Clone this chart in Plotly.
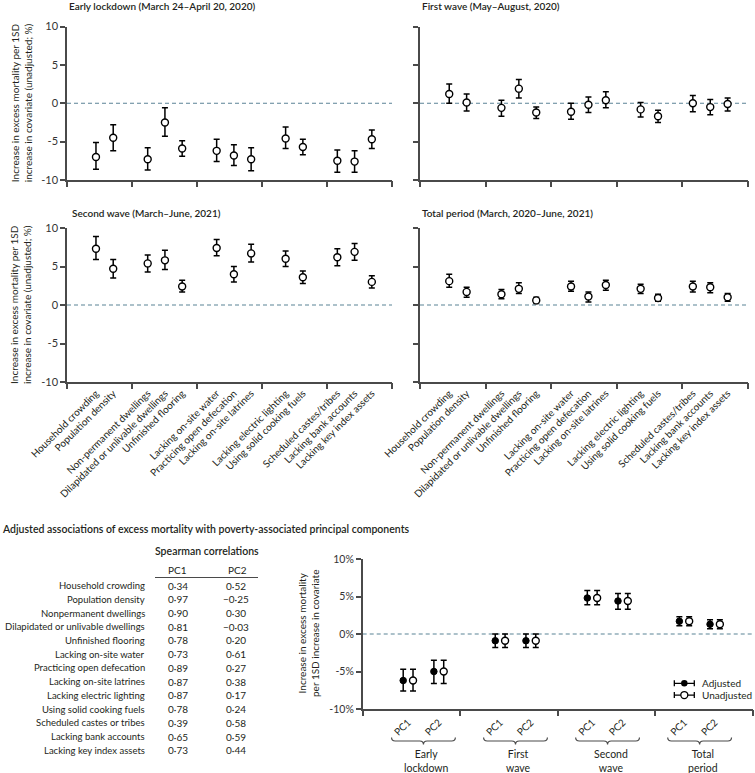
import plotly.graph_objects as go

# ---------------- data ----------------
categories = ["Household crowding", "Population density", "Non-permanent dwellings",
              "Dilapidated or unlivable dwellings", "Unfinished flooring",
              "Lacking on-site water", "Practicing open defecation", "Lacking on-site latrines",
              "Lacking electric lighting", "Using solid cooking fuels",
              "Scheduled castes/tribes", "Lacking bank accounts", "Lacking key index assets"]
group_sizes = [2, 3, 3, 2, 3]

early_est = [-7.0, -4.5, -7.3, -2.5, -5.9, -6.2, -6.8, -7.3, -4.6, -5.7, -7.5, -7.6, -4.7]
early_lo = [-8.6, -6.2, -8.7, -4.3, -6.9, -7.6, -8.1, -8.8, -5.9, -6.7, -9.0, -9.0, -5.9]
early_hi = [-5.1, -2.8, -5.8, -0.6, -4.9, -4.7, -5.4, -5.8, -3.1, -4.7, -6.1, -6.2, -3.5]

first_est = [1.2, 0.1, -0.6, 1.9, -1.2, -1.1, -0.2, 0.4, -0.8, -1.7, 0.0, -0.5, -0.1]
first_lo = [0.0, -1.0, -1.7, 0.7, -2.0, -2.1, -1.2, -0.6, -1.8, -2.5, -1.1, -1.5, -1.0]
first_hi = [2.5, 1.2, 0.4, 3.1, -0.5, 0.0, 0.8, 1.5, 0.1, -0.9, 1.0, 0.5, 0.7]

second_est = [7.3, 4.7, 5.4, 5.8, 2.4, 7.4, 4.0, 6.7, 6.0, 3.6, 6.2, 6.9, 3.0]
second_lo = [5.9, 3.5, 4.3, 4.6, 1.7, 6.4, 3.0, 5.6, 5.0, 2.8, 5.1, 5.8, 2.2]
second_hi = [8.9, 5.9, 6.5, 7.1, 3.2, 8.5, 5.0, 7.9, 7.0, 4.4, 7.3, 8.0, 3.8]

total_est = [3.1, 1.7, 1.4, 2.1, 0.6, 2.4, 1.1, 2.6, 2.1, 0.9, 2.4, 2.3, 1.0]
total_lo = [2.3, 1.0, 0.8, 1.5, 0.2, 1.8, 0.4, 1.9, 1.5, 0.5, 1.7, 1.6, 0.5]
total_hi = [4.0, 2.3, 2.0, 2.9, 1.0, 3.1, 1.7, 3.2, 2.7, 1.4, 3.1, 2.9, 1.5]

panel_titles = ["Early lockdown (March 24\u2013April 20, 2020)", "First wave (May\u2013August, 2020)",
                "Second wave (March\u2013June, 2021)", "Total period (March, 2020\u2013June, 2021)"]
y_ticks = [-10, -5, 0, 5, 10]

periods = ["Early<br>lockdown", "First<br>wave", "Second<br>wave", "Total<br>period"]
components = ["PC1", "PC2"]
adj_est = [-6.2, -5.0, -0.9, -0.9, 4.8, 4.4, 1.7, 1.3]
adj_lo = [-7.6, -6.6, -1.8, -1.8, 3.9, 3.3, 1.1, 0.7]
adj_hi = [-4.7, -3.5, 0.0, 0.0, 5.8, 5.4, 2.3, 1.9]
unadj_est = [-6.2, -5.0, -0.9, -0.9, 4.8, 4.4, 1.7, 1.3]
unadj_lo = [-7.6, -6.6, -1.8, -1.8, 3.9, 3.3, 1.1, 0.7]
unadj_hi = [-4.7, -3.5, 0.0, 0.0, 5.8, 5.4, 2.3, 1.9]
pc_ticks = [-10, -5, 0, 5, 10]

table_rows = ["Household crowding", "Population density", "Nonpermanent dwellings",
              "Dilapidated or unlivable dwellings", "Unfinished flooring", "Lacking on-site water",
              "Practicing open defecation", "Lacking on-site latrines", "Lacking electric lighting",
              "Using solid cooking fuels", "Scheduled castes or tribes", "Lacking bank accounts",
              "Lacking key index assets"]
pc1_corr = [0.34, 0.97, 0.90, 0.81, 0.78, 0.73, 0.89, 0.87, 0.87, 0.78, 0.39, 0.65, 0.73]
pc2_corr = [0.52, -0.25, 0.30, -0.03, 0.20, 0.61, 0.27, 0.38, 0.17, 0.24, 0.58, 0.59, 0.44]

# ---------------- styling ----------------
W, H = 755, 773
FONT = "Lato"
TXT = "#231f20"
AX = "#4a4a4a"
DASH = "#5b8396"
DASHPAT = "4px,3px"


def px(x):
    return x / W


def py(y):
    return 1 - y / H


def slot_positions(sizes):
    pos, s = [], 0
    for n in sizes:
        for _ in range(n):
            pos.append(s)
            s += 1
        s += 1
    return pos


xpos = slot_positions(group_sizes)
pc_pos = slot_positions([len(components)] * len(periods))

fig = go.Figure()
tick_axes = []  # (base x axis name, anchor y, range, n divisions)

panels = [
    (early_est, early_lo, early_hi),
    (first_est, first_lo, first_hi),
    (second_est, second_lo, second_hi),
    (total_est, total_lo, total_hi),
]
xdom = [[px(67), px(392)], [px(420), px(748)]]
ydom = [[py(180), py(26.5)], [py(382), py(228)]]
xr = [-1.68, 17.17]
ndiv = 5

for i, (est, lo, hi) in enumerate(panels):
    k = i + 1
    xa = "x" if k == 1 else f"x{k}"
    ya = "y" if k == 1 else f"y{k}"
    fig.add_trace(go.Scatter(
        x=xpos, y=est, xaxis=xa, yaxis=ya, mode="markers", showlegend=False,
        marker=dict(symbol="circle", size=7, color="white", line=dict(color="black", width=1.4)),
        error_y=dict(type="data", symmetric=False,
                     array=[h - e for h, e in zip(hi, est)],
                     arrayminus=[e - l for e, l in zip(est, lo)],
                     color="black", thickness=1.5, width=3),
        cliponaxis=False,
    ))
    col, row = i % 2, i // 2
    bottom = row == 1
    left = col == 0
    xkey = "xaxis" if k == 1 else f"xaxis{k}"
    ykey = "yaxis" if k == 1 else f"yaxis{k}"
    fig.layout[xkey] = dict(
        domain=xdom[col], anchor=ya, range=xr, showgrid=False, zeroline=False, automargin=False,
        showline=True, linecolor=AX, linewidth=1.5,
        tickmode="array", tickvals=xpos, ticktext=categories, ticks="",
        showticklabels=bottom, tickangle=-45,
        tickfont=dict(family=FONT, size=10, color=TXT),
    )
    fig.layout[ykey] = dict(
        domain=ydom[row], anchor=xa, range=[-10, 10], showgrid=False, zeroline=False, automargin=False,
        showline=True, linecolor=AX, linewidth=1.5,
        tickmode="array", tickvals=y_ticks, ticktext=[str(v) for v in y_ticks],
        ticks="outside", ticklen=5, tickwidth=1.5, tickcolor=AX,
        showticklabels=left, tickfont=dict(family=FONT, size=11, color="#333333"),
    )
    tick_axes.append((xa, ya, xdom[col], xr, ndiv))
    fig.add_shape(type="line", xref=f"{xa} domain", yref=ya, x0=0, x1=1, y0=0, y1=0,
                  line=dict(color=DASH, width=1.2, dash=DASHPAT), layer="below")

# panel titles
title_pos = [(67, 6), (420, 6), (70, 213), (420, 213)]
for t, (x, y) in zip(panel_titles, title_pos):
    fig.add_annotation(text=t, x=px(x), y=py(y), xref="paper", yref="paper",
                       xanchor="left", yanchor="middle", showarrow=False,
                       font=dict(family=FONT, size=10, color=TXT, weight=600))

ytitle = "Increase in excess mortality per 1SD<br>increase in covariate (unadjusted; %)"
for yc in [(26.5 + 180) / 2, (228 + 382) / 2]:
    fig.add_annotation(text=ytitle, x=px(21), y=py(yc), xref="paper", yref="paper",
                       xanchor="center", yanchor="middle", textangle=-90, showarrow=False,
                       font=dict(family=FONT, size=10, color=TXT))

# ---------------- bottom section ----------------
fig.add_annotation(text="Adjusted associations of excess mortality with poverty-associated principal components",
                   x=0, y=py(529), xref="paper", yref="paper", xanchor="left", yanchor="middle",
                   showarrow=False, font=dict(family=FONT, size=10.5, color=TXT, weight=600))

# table
fig.add_annotation(text="Spearman correlations", x=px(207), y=py(551), xref="paper", yref="paper",
                   xanchor="center", yanchor="middle", showarrow=False,
                   font=dict(family=FONT, size=10.5, color=TXT, weight=600))
for hdr, xc in zip(["PC1", "PC2"], [177, 237]):
    fig.add_annotation(text=hdr, x=px(xc), y=py(570), xref="paper", yref="paper",
                       xanchor="center", yanchor="middle", showarrow=False,
                       font=dict(family=FONT, size=10, color=TXT))
fig.add_shape(type="line", xref="paper", yref="paper", x0=px(155), x1=px(258),
              y0=py(577.5), y1=py(577.5), line=dict(color=AX, width=1.2))


def fmt(v):
    s = f"{abs(v):.2f}".replace(".", "\u00b7")
    return ("\u2212" if v < 0 else "") + s


for i, (lab, a, b) in enumerate(zip(table_rows, pc1_corr, pc2_corr)):
    yy = py(585.6 + 13.72 * i)
    fig.add_annotation(text=lab, x=px(147), y=yy, xref="paper", yref="paper", xanchor="right",
                       yanchor="middle", showarrow=False, font=dict(family=FONT, size=9.5, color=TXT))
    fig.add_annotation(text=fmt(a), x=px(178), y=yy, xref="paper", yref="paper", xanchor="center",
                       yanchor="middle", showarrow=False, font=dict(family=FONT, size=10, color=TXT))
    fig.add_annotation(text=fmt(b), x=px(236), y=yy, xref="paper", yref="paper", xanchor="center",
                       yanchor="middle", showarrow=False, font=dict(family=FONT, size=10, color=TXT))

# PC chart
off = 0.16
fig.add_trace(go.Scatter(
    x=[p - off for p in pc_pos], y=adj_est, xaxis="x5", yaxis="y5", mode="markers", showlegend=False,
    marker=dict(symbol="circle", size=6.5, color="black", line=dict(color="black", width=1)),
    error_y=dict(type="data", symmetric=False, array=[h - e for h, e in zip(adj_hi, adj_est)],
                 arrayminus=[e - l for e, l in zip(adj_est, adj_lo)], color="black", thickness=1.5, width=3),
))
fig.add_trace(go.Scatter(
    x=[p + off for p in pc_pos], y=unadj_est, xaxis="x5", yaxis="y5", mode="markers", showlegend=False,
    marker=dict(symbol="circle", size=7, color="white", line=dict(color="black", width=1.4)),
    error_y=dict(type="data", symmetric=False, array=[h - e for h, e in zip(unadj_hi, unadj_est)],
                 arrayminus=[e - l for e, l in zip(unadj_est, unadj_lo)], color="black", thickness=1.5, width=3),
))
xr5 = [-1.48, 11.24]
dom5 = [px(362.7), px(753)]
fig.layout["xaxis5"] = dict(
    domain=dom5, anchor="y5", range=xr5, showgrid=False, zeroline=False, automargin=False,
    showline=True, linecolor=AX, linewidth=1.5,
    tickmode="array", tickvals=pc_pos, ticktext=components * len(periods), ticks="",
    tickangle=-45, tickfont=dict(family=FONT, size=10, color=TXT), ticklabelstandoff=2,
)
fig.layout["yaxis5"] = dict(
    domain=[py(709), py(559)], anchor="x5", range=[-10, 10], showgrid=False, zeroline=False, automargin=False,
    showline=True, linecolor=AX, linewidth=1.5,
    tickmode="array", tickvals=pc_ticks, ticktext=[f"{v}%" for v in pc_ticks],
    ticks="outside", ticklen=5, tickwidth=1.5, tickcolor=AX,
    tickfont=dict(family=FONT, size=10.5, color="#333333"),
)
tick_axes.append(("x5", "y5", dom5, xr5, len(periods)))
fig.add_shape(type="line", xref="x5 domain", yref="y5", x0=0, x1=1, y0=0, y1=0,
              line=dict(color=DASH, width=1.2, dash=DASHPAT), layer="below")
fig.add_annotation(text="Increase in excess mortality<br>per 1SD increase in covariate",
                   x=px(308), y=py(634), xref="paper", yref="paper", xanchor="center", yanchor="middle",
                   textangle=-90, showarrow=False, font=dict(family=FONT, size=10, color=TXT))

# braces + period labels
ytop, ymid, ybot = py(737.5), py(741), py(744.5)
for g, name in enumerate(periods):
    c = (pc_pos[2 * g] + pc_pos[2 * g + 1]) / 2
    x0, x1 = c - 1.04, c + 1.04
    w = 0.12
    path = (f"M {x0},{ytop} Q {x0},{ymid} {x0 + w},{ymid} L {c - w},{ymid} "
            f"Q {c},{ymid} {c},{ybot} Q {c},{ymid} {c + w},{ymid} L {x1 - w},{ymid} "
            f"Q {x1},{ymid} {x1},{ytop}")
    fig.add_shape(type="path", xref="x5", yref="paper", path=path, line=dict(color=AX, width=1.2))
    fig.add_annotation(text=name, x=c + 0.1, xref="x5", y=py(745.5), yref="paper", xanchor="center",
                       yanchor="top", showarrow=False,
                       font=dict(family=FONT, size=10.5, color=TXT))

# custom legend (overlay axis)
leg_names = ["Adjusted", "Unadjusted"]
leg_y = [0.171, 0.093]
fig.add_trace(go.Scatter(
    x=[0.824], y=[leg_y[0]], xaxis="x6", yaxis="y6", mode="markers", showlegend=False,
    marker=dict(size=6.5, color="black"),
    error_x=dict(type="constant", value=0.0256, color="black", thickness=1.3, width=3),
))
fig.add_trace(go.Scatter(
    x=[0.824], y=[leg_y[1]], xaxis="x6", yaxis="y6", mode="markers", showlegend=False,
    marker=dict(size=7, color="white", line=dict(color="black", width=1.3)),
    error_x=dict(type="constant", value=0.0256, color="black", thickness=1.3, width=3),
))
for n, yy in zip(leg_names, leg_y):
    fig.add_annotation(text=n, x=0.864, y=yy, xref="x6", yref="y6", xanchor="left", yanchor="middle",
                       showarrow=False, font=dict(family=FONT, size=10, color=TXT))
fig.layout["xaxis6"] = dict(domain=dom5, anchor="y6", range=[0, 1], visible=False,
                            overlaying="x5", fixedrange=True, automargin=False)
fig.layout["yaxis6"] = dict(domain=[py(709), py(559)], anchor="x6", range=[0, 1], visible=False,
                            overlaying="y5", fixedrange=True, automargin=False)

# group-boundary tick marks: overlay x axes with evenly spaced ticks
for j, (base, ya, dom, rng, n) in enumerate(tick_axes):
    idx = 7 + j
    fig.layout[f"xaxis{idx}"] = dict(
        domain=dom, overlaying=base, anchor=ya, range=rng, side="bottom",
        tickmode="linear", tick0=rng[0], dtick=(rng[1] - rng[0]) / n,
        ticks="outside", ticklen=6, tickwidth=1.5, tickcolor=AX,
        showticklabels=False, showline=False, showgrid=False, zeroline=False,
        automargin=False, fixedrange=True,
    )
    # invisible anchor trace so the overlay subplot is created
    fig.add_trace(go.Scatter(x=[rng[0]], y=[0], xaxis=f"x{idx}", yaxis=ya, mode="markers",
                             marker=dict(opacity=0), showlegend=False, hoverinfo="skip"))

fig.update_layout(width=W, height=H, margin=dict(l=0, r=0, t=0, b=0, autoexpand=False),
                  paper_bgcolor="white", plot_bgcolor="rgba(0,0,0,0)",
                  font=dict(family=FONT, color=TXT))

fig.write_html("out.html", config={"displayModeBar": False},
               post_script="document.body.style.margin='0px';")
